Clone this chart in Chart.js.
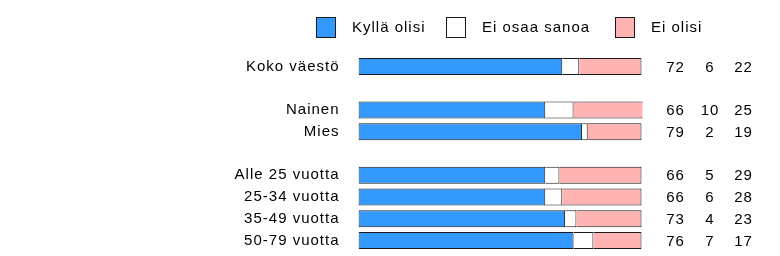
<!DOCTYPE html>
<html>
<head>
<meta charset="utf-8">
<script src="https://cdn.jsdelivr.net/npm/chart.js@4/dist/chart.umd.min.js"></script>
<style>
  html, body { margin: 0; padding: 0; background: #fff; }
  #wrap { position: relative; width: 780px; height: 256px; }
</style>
</head>
<body>
<div id="wrap"><canvas id="chart"></canvas></div>
<script>
// Ryhmät (tyhjä = väli rivien välissä)
const categories = ["Koko väestö", "", "Nainen", "Mies", "", "Alle 25 vuotta", "25-34 vuotta", "35-49 vuotta", "50-79 vuotta"];
const seriesNames = ["Kyllä olisi", "Ei osaa sanoa", "Ei olisi"];
const kyllaOlisi = [72, null, 66, 79, null, 66, 66, 73, 76];
const eiOsaaSanoa = [6, null, 10, 2, null, 5, 6, 4, 7];
const eiOlisi = [22, null, 25, 19, null, 29, 28, 23, 17];
const colors = ["#3399ff", "#ffffff", "#ffb3b3"];

const FONT = "15px 'Liberation Sans', Arial, sans-serif";
const TEXT = "#000000";

// Legenda ja lukuarvot oikealla
const extrasPlugin = {
    id: "extras",
    beforeDraw(chart) {
        chart.ctx.letterSpacing = "1px";
    },
    afterDraw(chart) {
        const ctx = chart.ctx;
        const y = chart.scales.y;
        ctx.save();
        ctx.letterSpacing = "1px";
        ctx.font = FONT;
        ctx.fillStyle = TEXT;
        ctx.textBaseline = "middle";

        // lukuarvot
        const cols = [kyllaOlisi, eiOsaaSanoa, eiOlisi];
        const colCenter = [675.5, 710, 743.5];
        ctx.textAlign = "center";
        categories.forEach((c, i) => {
            if (kyllaOlisi[i] === null) return;
            const py = y.getPixelForValue(i);
            cols.forEach((arr, k) => ctx.fillText(String(arr[i]), colCenter[k], py + 1));
        });

        // legenda
        const boxX = [316, 446, 615];
        ctx.textAlign = "left";
        seriesNames.forEach((name, k) => {
            ctx.fillStyle = colors[k];
            ctx.fillRect(boxX[k], 17, 20, 21);
            ctx.strokeStyle = "#1a1a1a";
            ctx.lineWidth = 1;
            ctx.strokeRect(boxX[k] + 0.5, 17.5, 19, 20);
            ctx.fillStyle = TEXT;
            ctx.fillText(name, boxX[k] + 36, 28);
        });
        ctx.restore();
    }
};

const ctx = document.getElementById("chart").getContext("2d");
new Chart(ctx, {
    type: "bar",
    data: {
        labels: categories,
        datasets: [
            {
                label: seriesNames[0], data: kyllaOlisi, backgroundColor: colors[0],
                borderColor: "#1a1a1a", borderSkipped: false,
                borderWidth: { top: 1, bottom: 1, left: 1, right: 1 }
            },
            {
                label: seriesNames[1], data: eiOsaaSanoa, backgroundColor: colors[1],
                borderColor: "#1a1a1a", borderSkipped: false,
                borderWidth: { top: 1, bottom: 1, left: 0, right: 1 }
            },
            {
                label: seriesNames[2], data: eiOlisi, backgroundColor: colors[2],
                borderColor: "#1a1a1a", borderSkipped: false,
                borderWidth: { top: 1, bottom: 1, left: 0, right: 1 },
                clip: { left: false, right: 1, top: false, bottom: false }
            }
        ]
    },
    options: {
        indexAxis: "y",
        responsive: true,
        maintainAspectRatio: false,
        animation: false,
        devicePixelRatio: 1,
        categoryPercentage: 1,
        barPercentage: 0.78,
        layout: { padding: { top: 55.5, bottom: 4.5, left: 0, right: 138.5 } },
        plugins: {
            legend: { display: false },
            tooltip: { enabled: false }
        },
        scales: {
            x: { stacked: true, min: 0, max: 100, display: false },
            y: {
                stacked: true,
                grid: { display: false, drawTicks: false },
                border: { display: false },
                ticks: {
                    padding: 19,
                    color: TEXT,
                    font: { family: "'Liberation Sans', Arial, sans-serif", size: 15 }
                },
                afterFit(scale) {
                    scale.width = 358.5;
                    scale.paddingTop = 0;
                    scale.paddingBottom = 0;
                }
            }
        }
    },
    plugins: [extrasPlugin]
});
</script>
</body>
</html>
